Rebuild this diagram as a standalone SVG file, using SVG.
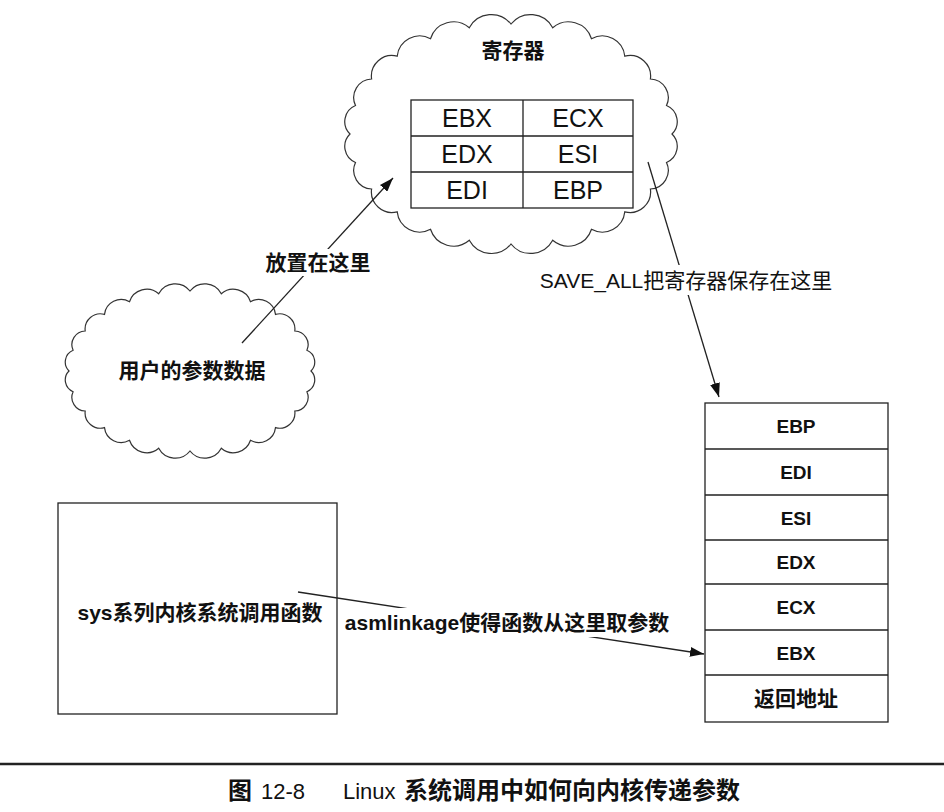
<svg xmlns="http://www.w3.org/2000/svg" width="944" height="812" viewBox="0 0 944 812">
<style>
.ln{fill:none;stroke:#222;stroke-width:1.3}
.cl{fill:none;stroke:#333;stroke-width:1.2}
.bx{fill:#fff;stroke:#222;stroke-width:1.3}
.t{font-family:"Liberation Sans","Noto Sans CJK SC",sans-serif;fill:#111;text-anchor:middle;dominant-baseline:central}
.b{font-weight:bold}
.reg{font-size:25px}
.stk{font-size:19px;font-weight:bold}
.lbl{font-size:21px;font-weight:bold}
.cap{font-family:"Liberation Sans","Noto Sans CJK SC",sans-serif;fill:#111;font-weight:bold}
</style>
<defs>
<marker id="ah" viewBox="0 0 14 10" refX="14" refY="5" markerWidth="14" markerHeight="10" markerUnits="userSpaceOnUse" orient="auto"><path d="M0,0 L14,5 L0,10 z" fill="#111"/></marker>
</defs>
<rect width="944" height="812" fill="#fff"/>

<g id="registers">
<path class="cl" d="M672,134 A17.4,17.4 0 0 1 666.5,162.5 A18.6,18.6 0 0 1 650.4,189 A20.6,20.6 0 0 1 624.8,211.8 A22.6,22.6 0 0 1 591.5,229.3 A24.2,24.2 0 0 1 552.7,240.3 A25.1,25.1 0 0 1 511,244 A25.1,25.1 0 0 1 469.3,240.3 A24.2,24.2 0 0 1 430.5,229.3 A22.6,22.6 0 0 1 397.2,211.8 A20.6,20.6 0 0 1 371.6,189 A18.6,18.6 0 0 1 355.5,162.5 A17.4,17.4 0 0 1 350,134 A17.4,17.4 0 0 1 355.5,105.5 A18.6,18.6 0 0 1 371.6,79 A20.6,20.6 0 0 1 397.2,56.2 A22.6,22.6 0 0 1 430.5,38.7 A24.2,24.2 0 0 1 469.3,27.7 A25.1,25.1 0 0 1 511,24 A25.1,25.1 0 0 1 552.7,27.7 A24.2,24.2 0 0 1 591.5,38.7 A22.6,22.6 0 0 1 624.8,56.2 A20.6,20.6 0 0 1 650.4,79 A18.6,18.6 0 0 1 666.5,105.5 A17.4,17.4 0 0 1 672,134 Z"/>
<text class="t lbl" x="513" y="50">寄存器</text>
<rect class="bx" x="411" y="100" width="222" height="108"/>
<path class="ln" d="M411,136 H633 M411,172 H633 M523,100 V208"/>
<text class="t reg" x="467" y="118">EBX</text>
<text class="t reg" x="578" y="118">ECX</text>
<text class="t reg" x="467" y="154">EDX</text>
<text class="t reg" x="578" y="154">ESI</text>
<text class="t reg" x="467" y="190">EDI</text>
<text class="t reg" x="578" y="190">EBP</text>
</g>

<g id="userdata">
<path class="cl" d="M311,371 A12.7,12.7 0 0 1 306.9,391.7 A13.7,13.7 0 0 1 294.8,411 A15.3,15.3 0 0 1 275.5,427.6 A16.8,16.8 0 0 1 250.5,440.3 A18.2,18.2 0 0 1 221.3,448.3 A18.8,18.8 0 0 1 190,451 A18.8,18.8 0 0 1 158.7,448.3 A18.2,18.2 0 0 1 129.5,440.3 A16.8,16.8 0 0 1 104.5,427.6 A15.3,15.3 0 0 1 85.2,411 A13.7,13.7 0 0 1 73.1,391.7 A12.7,12.7 0 0 1 69,371 A12.7,12.7 0 0 1 73.1,350.3 A13.7,13.7 0 0 1 85.2,331 A15.3,15.3 0 0 1 104.5,314.4 A16.8,16.8 0 0 1 129.5,301.7 A18.2,18.2 0 0 1 158.7,293.7 A18.8,18.8 0 0 1 190,291 A18.8,18.8 0 0 1 221.3,293.7 A18.2,18.2 0 0 1 250.5,301.7 A16.8,16.8 0 0 1 275.5,314.4 A15.3,15.3 0 0 1 294.8,331 A13.7,13.7 0 0 1 306.9,350.3 A12.7,12.7 0 0 1 311,371 Z"/>
<text class="t lbl" x="192" y="370">用户的参数数据</text>
</g>

<g id="sysfunc">
<rect class="bx" x="58" y="503" width="279" height="211"/>
<text class="t b" x="200" y="612" font-size="21">sys系列内核系统调用函数</text>
</g>

<g id="stack">
<rect class="bx" x="705" y="403" width="183" height="319"/>
<path class="ln" d="M705,449 H888 M705,495 H888 M705,540 H888 M705,584 H888 M705,630 H888 M705,675 H888"/>
<text class="t stk" x="796" y="426">EBP</text>
<text class="t stk" x="796" y="472">EDI</text>
<text class="t stk" x="796" y="518">ESI</text>
<text class="t stk" x="796" y="562">EDX</text>
<text class="t stk" x="796" y="607">ECX</text>
<text class="t stk" x="796" y="653">EBX</text>
<text class="t lbl" x="796" y="698">返回地址</text>
</g>

<g id="connectors">
<line class="ln" x1="242" y1="343" x2="393" y2="178" marker-end="url(#ah)"/>
<rect x="263" y="249" width="112" height="27" fill="#fff"/>
<text class="t lbl" x="318" y="262">放置在这里</text>

<line class="ln" x1="648" y1="162" x2="719" y2="397" marker-end="url(#ah)"/>
<rect x="536" y="265" width="302" height="30" fill="#fff"/>
<text class="t" x="686" y="280" font-size="21">SAVE_ALL把寄存器保存在这里</text>

<line class="ln" x1="298" y1="592" x2="704" y2="654" marker-end="url(#ah)"/>
<rect x="343" y="608" width="329" height="29" fill="#fff"/>
<text class="t b" x="507" y="622" font-size="21">asmlinkage使得函数从这里取参数</text>
</g>

<g id="caption">
<line x1="0" y1="764" x2="944" y2="764" stroke="#222" stroke-width="2.5"/>
<text class="cap" y="799"><tspan x="228" font-size="24">图</tspan><tspan x="261" font-size="22" font-weight="normal">12-8</tspan><tspan x="343" font-size="22" font-weight="normal">Linux</tspan><tspan x="404" font-size="24">系统调用中如何向内核传递参数</tspan></text>
</g>
</svg>
